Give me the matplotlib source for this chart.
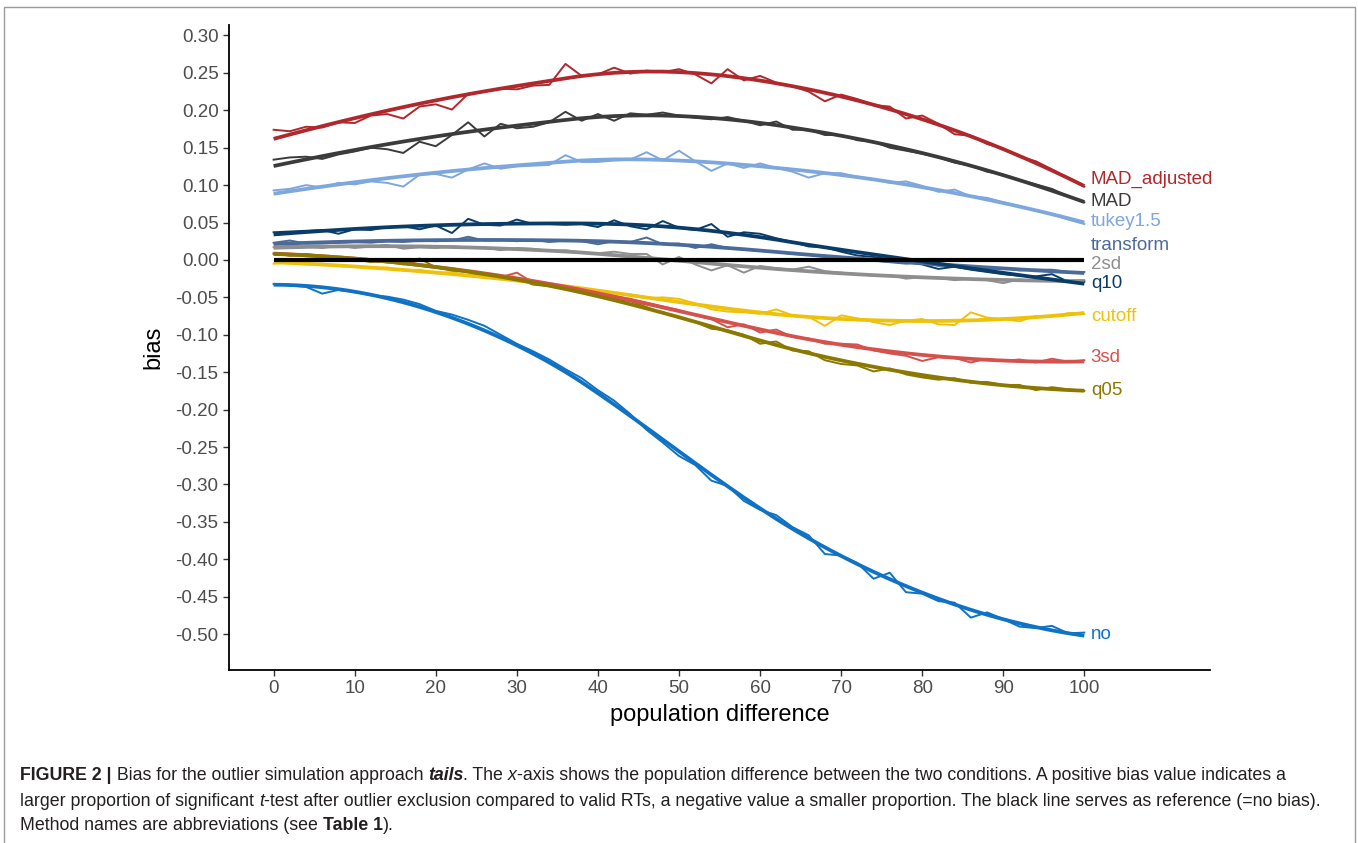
import numpy as np
import matplotlib
matplotlib.use('Agg')
import matplotlib.pyplot as plt
from matplotlib.patches import Rectangle

plt.rcParams['font.family'] = ['Liberation Sans', 'DejaVu Sans']
plt.rcParams['axes.unicode_minus'] = False

# population difference (simulated every 2 units)
pop_diff = list(range(0, 101, 2))

methods = ['MAD_adjusted', 'MAD', 'tukey1.5', 'transform', '2sd', 'q10',
           'cutoff', '3sd', 'q05', 'no']

colors = {'MAD_adjusted': '#B0282C', 'MAD': '#3B3B3B', 'tukey1.5': '#7DA7DD',
          'transform': '#4A6A99', '2sd': '#8E8E8E', 'q10': '#0A3C69',
          'cutoff': '#EEC10B', '3sd': '#D5514C', 'q05': '#8A7800', 'no': '#0F72C4'}

# bias values
bias_MAD_adjusted = [.174, .172, .178, .177, .184, .183, .193, .195, .189, .205, .208, .201, .222,
                     .225, .229, .228, .233, .234, .262, .246, .248, .257, .249, .253, .251, .255,
                     .248, .236, .255, .240, .246, .237, .232, .225, .212, .221, .215, .207, .205,
                     .189, .193, .182, .168, .166, .155, .149, .138, .132, .121, .109, .098]
bias_MAD = [.134, .137, .138, .135, .141, .145, .150, .148, .143, .158, .152, .167, .184, .165,
            .182, .176, .178, .184, .198, .186, .195, .186, .196, .194, .197, .193, .190, .188,
            .191, .186, .180, .185, .174, .174, .167, .167, .160, .158, .150, .146, .142, .137,
            .130, .126, .118, .114, .107, .101, .095, .085, .077]
bias_tukey = [.093, .095, .100, .097, .103, .101, .105, .103, .098, .114, .115, .110, .121, .129,
              .122, .125, .126, .127, .140, .131, .131, .133, .134, .144, .133, .146, .132, .119,
              .129, .123, .129, .123, .118, .110, .116, .116, .111, .108, .103, .105, .099, .091,
              .094, .085, .083, .077, .072, .066, .061, .054, .048]
bias_transform = [.023, .026, .022, .022, .023, .024, .023, .025, .024, .026, .025, .026, .031,
                  .026, .027, .025, .027, .024, .026, .025, .021, .025, .024, .030, .021, .022,
                  .016, .021, .016, .014, .012, .011, .008, .007, .004, .002, .002, -.001, -.003,
                  -.005, -.004, -.008, -.007, -.010, -.012, -.011, -.014, -.013, -.013, -.016, -.016]
bias_2sd = [.017, .019, .018, .016, .019, .016, .018, .020, .015, .017, .016, .018, .017, .017,
            .013, .016, .015, .012, .013, .010, .009, .011, .008, .008, -.006, .004, -.006, -.014,
            -.007, -.017, -.008, -.011, -.013, -.009, -.015, -.017, -.019, -.021, -.020, -.025,
            -.023, -.024, -.027, -.025, -.027, -.031, -.026, -.028, -.026, -.028, -.027]
bias_q10 = [.037, .038, .039, .040, .035, .041, .040, .044, .045, .041, .046, .036, .055, .047,
            .046, .054, .048, .048, .047, .048, .044, .053, .045, .041, .052, .043, .040, .048,
            .031, .037, .035, .029, .024, .018, .017, .011, .006, .004, .001, -.003, -.006, -.012,
            -.009, -.013, -.016, -.019, -.021, -.022, -.019, -.029, -.029]
bias_cutoff = [-.005, -.003, -.006, -.005, -.008, -.009, -.011, -.010, -.014, -.013, -.018, -.016,
               -.021, -.020, -.025, -.027, -.029, -.033, -.035, -.038, -.041, -.045, -.046, -.051,
               -.050, -.052, -.058, -.066, -.069, -.070, -.072, -.066, -.074, -.076, -.088, -.074,
               -.078, -.083, -.087, -.081, -.079, -.086, -.087, -.070, -.077, -.079, -.082, -.075,
               -.076, -.071, -.072]
bias_3sd = [.009, .006, .007, .004, .003, .002, -.001, -.003, .001, -.007, -.009, -.012, -.015,
            -.020, -.023, -.017, -.030, -.033, -.036, -.039, -.043, -.048, -.052, -.057, -.062,
            -.067, -.074, -.079, -.090, -.086, -.097, -.093, -.103, -.105, -.112, -.112, -.113,
            -.121, -.125, -.128, -.135, -.130, -.131, -.137, -.132, -.135, -.133, -.137, -.132,
            -.136, -.134]
bias_q05 = [.008, .006, .008, .005, .003, .001, -.003, -.001, -.006, .002, -.010, -.014, -.016,
            -.023, -.021, -.025, -.033, -.035, -.039, -.043, -.045, -.052, -.055, -.063, -.071,
            -.076, -.083, -.092, -.094, -.100, -.112, -.109, -.121, -.122, -.134, -.139, -.141,
            -.149, -.145, -.153, -.157, -.160, -.158, -.164, -.163, -.167, -.167, -.174, -.170,
            -.173, -.175]
bias_no = [-.032, -.034, -.036, -.045, -.040, -.043, -.047, -.049, -.053, -.059, -.068, -.073,
           -.080, -.088, -.100, -.112, -.122, -.133, -.146, -.158, -.174, -.188, -.206, -.227,
           -.244, -.262, -.274, -.295, -.302, -.322, -.334, -.341, -.357, -.368, -.393, -.395,
           -.405, -.426, -.418, -.444, -.446, -.456, -.458, -.478, -.471, -.480, -.490, -.492,
           -.489, -.499, -.498]

series = {'MAD_adjusted': bias_MAD_adjusted, 'MAD': bias_MAD, 'tukey1.5': bias_tukey,
          'transform': bias_transform, '2sd': bias_2sd, 'q10': bias_q10,
          'cutoff': bias_cutoff, '3sd': bias_3sd, 'q05': bias_q05, 'no': bias_no}

# label heights (direct labels are nudged apart at the right end)
label_y = {'MAD_adjusted': 0.108, 'MAD': 0.0775, 'tukey1.5': 0.051, 'transform': 0.0187,
           '2sd': -0.0067, 'q10': -0.032, 'cutoff': -0.076, '3sd': -0.131, 'q05': -0.175,
           'no': -0.500}


def loess(x, y, xnew, span=0.75):
    # local quadratic regression, tricube weights (like geom_smooth)
    x = np.asarray(x, float)
    y = np.asarray(y, float)
    k = int(np.ceil(span * len(x)))
    out = []
    for x0 in xnew:
        d = np.abs(x - x0)
        h = np.sort(d)[k - 1]
        w = np.clip(1 - (d / h) ** 3, 0, None) ** 3
        A = np.vstack([np.ones_like(x), x - x0, (x - x0) ** 2]).T
        W = np.sqrt(w)
        beta = np.linalg.lstsq(A * W[:, None], y * W, rcond=None)[0]
        out.append(beta[0])
    return np.array(out)


def fmt_bias(v, pos):
    s = '%.2f' % v
    return '0.00' if s == '-0.00' else s


fig = plt.figure(figsize=(13.58, 8.43), dpi=100)
ax = fig.add_axes([229 / 1358, 1 - 670 / 843, (1210 - 229) / 1358, (670 - 25) / 843])

xs = np.linspace(0, 100, 120)
for m in methods:
    c = colors[m]
    ax.plot(pop_diff, series[m], color=c, lw=1.4, zorder=2)
    ax.plot(xs, loess(pop_diff, series[m], xs), color=c, lw=2.7, zorder=3,
            solid_capstyle='butt')
    ax.text(100.8, label_y[m], m, color=c, fontsize=13.5, va='center', ha='left')

ax.plot([0, 100], [0, 0], color='black', lw=3, zorder=4, solid_capstyle='butt')

ax.set_xlim(-5.5, 115.5)
ax.set_ylim(-0.548, 0.314)
ax.set_xticks(range(0, 101, 10))
ax.set_yticks(np.arange(-0.5, 0.301, 0.05))
ax.yaxis.set_major_formatter(matplotlib.ticker.FuncFormatter(fmt_bias))
ax.tick_params(labelsize=13.5, labelcolor='#4D4D4D', color='#333333', length=4, width=1)
for s in ['top', 'right']:
    ax.spines[s].set_visible(False)
for s in ['left', 'bottom']:
    ax.spines[s].set_linewidth(1.3)
ax.set_xlabel('population difference', fontsize=17, labelpad=5)
ax.set_ylabel('bias', fontsize=17, labelpad=8)

# frame around figure + caption
fig.patches.append(Rectangle((4 / 1358, -0.02), 1351 / 1358, 1.02 - 7 / 843,
                             transform=fig.transFigure, fill=False,
                             edgecolor='#9A9A9A', lw=1))

cap_font = ['Liberation Sans Narrow', 'Liberation Sans', 'DejaVu Sans']
cap_lines = [
    [('FIGURE 2 |', 'bold', 'normal'), (' Bias for the outlier simulation approach ', 'normal', 'normal'),
     ('tails', 'bold', 'italic'), ('. The ', 'normal', 'normal'), ('x', 'normal', 'italic'),
     ('-axis shows the population difference between the two conditions. A positive bias value indicates a',
      'normal', 'normal')],
    [('larger proportion of significant ', 'normal', 'normal'), ('t', 'normal', 'italic'),
     ('-test after outlier exclusion compared to valid RTs, a negative value a smaller proportion. '
      'The black line serves as reference (=no bias).', 'normal', 'normal')],
    [('Method names are abbreviations (see ', 'normal', 'normal'), ('Table 1', 'bold', 'normal'),
     (').', 'normal', 'normal')],
]
cap_y = [775, 801, 826]

fig.canvas.draw()
renderer = fig.canvas.get_renderer()
for line, yp in zip(cap_lines, cap_y):
    xp = 20
    for txt, wt, st in line:
        t = fig.text(xp / 1358, 1 - yp / 843, txt, fontsize=12.8, family=cap_font,
                     weight=wt, style=st, color='#231F20', va='center', ha='left')
        bb = t.get_window_extent(renderer)
        xp += bb.width

fig.savefig('out.png', dpi=100)
